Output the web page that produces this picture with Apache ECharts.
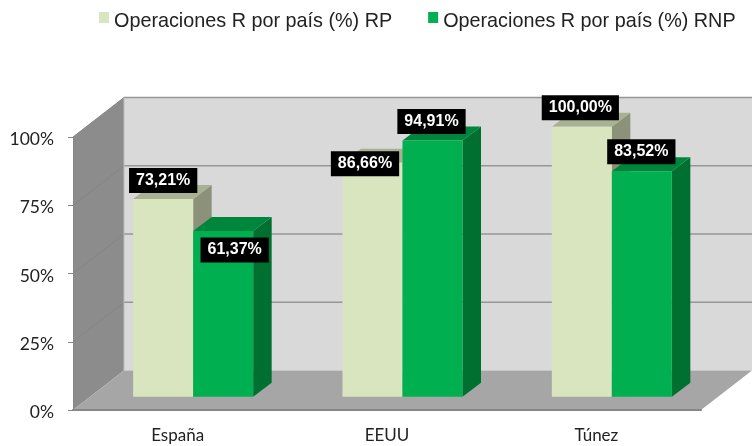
<!DOCTYPE html>
<html>
<head>
<meta charset="utf-8">
<style>
  html, body { margin: 0; padding: 0; background: #fff; }
  #chart { width: 753px; height: 446px; }
</style>
</head>
<body>
<div id="chart"></div>
<script src="https://cdn.jsdelivr.net/npm/echarts@6/dist/echarts.min.js"></script>
<script>
const categories = ['España', 'EEUU', 'Túnez'];
const valoresRP = [73.21, 86.66, 100];
const valoresRNP = [61.37, 94.91, 83.52];
const nombreRP = 'Operaciones R por país (%) RP';
const nombreRNP = 'Operaciones R por país (%) RNP';
const yTicks = [25, 50, 75, 100];

// desplazamiento de las etiquetas respecto a su barra, como en el original
const shiftRP = [[0, -18.5], [-7.5, 1], [-1.5, -19]];
const shiftRNP = [[11.5, 19], [-1, -19], [-0.5, -19.5]];

// perspectiva falsa: fondo del grafico y posicion de las barras dentro de el
const DEPTH_X = 51;
const DEPTH_Y = -39.5;
const BAR_X = 15.5;
const BAR_Y = -13.3;
const BAR_DX = 18.5;
const BAR_DY = -14;
const BAR_W = 60;
const BAR_SCALE = 0.989;

const poly = (points, fill) => ({
  type: 'polygon',
  shape: { points },
  style: { fill }
});
const line = (x1, y1, x2, y2, stroke, lineWidth) => ({
  type: 'line',
  shape: { x1, y1, x2, y2 },
  style: { stroke, lineWidth }
});

const renderWalls = (params, api) => {
  const cs = params.coordSys;
  const l = cs.x, r = cs.x + cs.width, t = cs.y, b = cs.y + cs.height;
  const children = [
    poly([[l + DEPTH_X, t + DEPTH_Y], [r + DEPTH_X, t + DEPTH_Y], [r + DEPTH_X, b + DEPTH_Y], [l + DEPTH_X, b + DEPTH_Y]], '#d9d9d9'),
    poly([[l, b], [l, t], [l + DEPTH_X, t + DEPTH_Y], [l + DEPTH_X, b + DEPTH_Y]], '#8c8c8c'),
    poly([[l, b], [r, b], [r + DEPTH_X, b + DEPTH_Y], [l + DEPTH_X, b + DEPTH_Y]], '#a6a6a6')
  ];
  yTicks.forEach(v => {
    const y = api.coord([0, v])[1];
    children.push(line(l, y, l + DEPTH_X, y + DEPTH_Y, '#858585', 1));
    children.push(line(l + DEPTH_X, y + DEPTH_Y, r + DEPTH_X, y + DEPTH_Y, '#969696', 1.5));
  });
  children.push(line(l + DEPTH_X, t + DEPTH_Y, l + DEPTH_X, b + DEPTH_Y, '#bdbdbd', 1));
  return { type: 'group', children };
};

const barBox = (api, side) => {
  const base = api.coord([api.value(0), 0]);
  const top = api.coord([api.value(0), api.value(1)]);
  const x0 = base[0] + BAR_X + (side < 0 ? -BAR_W : 0);
  return {
    x0,
    x1: x0 + BAR_W,
    y0: base[1] + BAR_Y,
    y1: base[1] + (top[1] - base[1]) * BAR_SCALE + BAR_Y
  };
};

const renderBar = (side, colors) => (params, api) => {
  const { x0, x1, y0, y1 } = barBox(api, side);
  return {
    type: 'group',
    children: [
      poly([[x1, y0], [x1, y1], [x1 + BAR_DX, y1 + BAR_DY], [x1 + BAR_DX, y0 + BAR_DY]], colors.side),
      poly([[x0, y1], [x1, y1], [x1 + BAR_DX, y1 + BAR_DY], [x0 + BAR_DX, y1 + BAR_DY]], colors.top),
      poly([[x0, y0], [x0, y1], [x1, y1], [x1, y0]], colors.front)
    ]
  };
};

const renderLabel = (side, shifts) => (params, api) => {
  const { x0, x1, y1 } = barBox(api, side);
  const shift = shifts[params.dataIndex];
  return {
    type: 'text',
    x: (x0 + x1) / 2 + shift[0],
    y: y1 + shift[1],
    style: {
      text: api.value(1).toFixed(2).replace('.', ',') + '%',
      font: 'bold 16px "Liberation Sans"',
      fill: '#fff',
      align: 'center',
      verticalAlign: 'middle',
      backgroundColor: '#000',
      padding: [5, 7, 4, 7]
    }
  };
};

const toData = values => values.map((v, i) => [i, v]);

const colorsRP = { front: '#d9e5bf', side: '#8c917a', top: '#a8b293' };
const colorsRNP = { front: '#00b050', side: '#007030', top: '#00863c' };

const option = {
  animation: false,
  textStyle: { fontFamily: 'Lato' },
  grid: { left: 73, right: 52, top: 137, bottom: 36 },
  legend: {
    left: 94,
    top: 7,
    icon: 'rect',
    itemWidth: 10,
    itemHeight: 11,
    itemGap: 36,
    formatter: name => '{t|' + name + '}',
    textStyle: {
      rich: {
        t: { fontFamily: 'Liberation Sans', fontSize: 19.8, color: '#222', padding: [9, 0, 0, 0] }
      }
    },
    data: [
      { name: nombreRP, itemStyle: { color: colorsRP.front } },
      { name: nombreRNP, itemStyle: { color: colorsRNP.front } }
    ]
  },
  xAxis: {
    type: 'category',
    data: categories,
    z: 5,
    axisLine: { lineStyle: { color: '#868686', width: 2 } },
    axisTick: { length: 6, lineStyle: { color: '#868686', width: 1 } },
    axisLabel: { color: '#222', fontSize: 17, margin: 17, fontFamily: 'Lato' }
  },
  yAxis: {
    type: 'value',
    min: 0,
    max: 100,
    interval: 25,
    z: 5,
    splitLine: { show: false },
    axisLine: { show: true, lineStyle: { color: '#868686', width: 1 } },
    axisTick: { show: true, length: 5, lineStyle: { color: '#868686', width: 1 } },
    axisLabel: {
      margin: 19,
      formatter: '{t|{value}%}',
      rich: {
        t: { fontFamily: 'Lato', fontSize: 17.5, color: '#222', padding: [5, 0, 0, 0] }
      }
    }
  },
  series: [
    { name: 'paredes', type: 'custom', z: 1, silent: true, renderItem: renderWalls, data: [[0, 0]], encode: { x: 0, y: 1 } },
    { name: nombreRP, type: 'custom', z: 2, renderItem: renderBar(-1, colorsRP), data: toData(valoresRP), encode: { x: 0, y: 1 }, itemStyle: { color: colorsRP.front } },
    { name: nombreRNP, type: 'custom', z: 3, renderItem: renderBar(1, colorsRNP), data: toData(valoresRNP), encode: { x: 0, y: 1 }, itemStyle: { color: colorsRNP.front } },
    { name: 'etiquetas RP', type: 'custom', z: 6, renderItem: renderLabel(-1, shiftRP), data: toData(valoresRP), encode: { x: 0, y: 1 } },
    { name: 'etiquetas RNP', type: 'custom', z: 7, renderItem: renderLabel(1, shiftRNP), data: toData(valoresRNP), encode: { x: 0, y: 1 } }
  ]
};

const myChart = echarts.init(document.getElementById('chart'), null, { renderer: 'canvas' });
myChart.setOption(option);
</script>
</body>
</html>
